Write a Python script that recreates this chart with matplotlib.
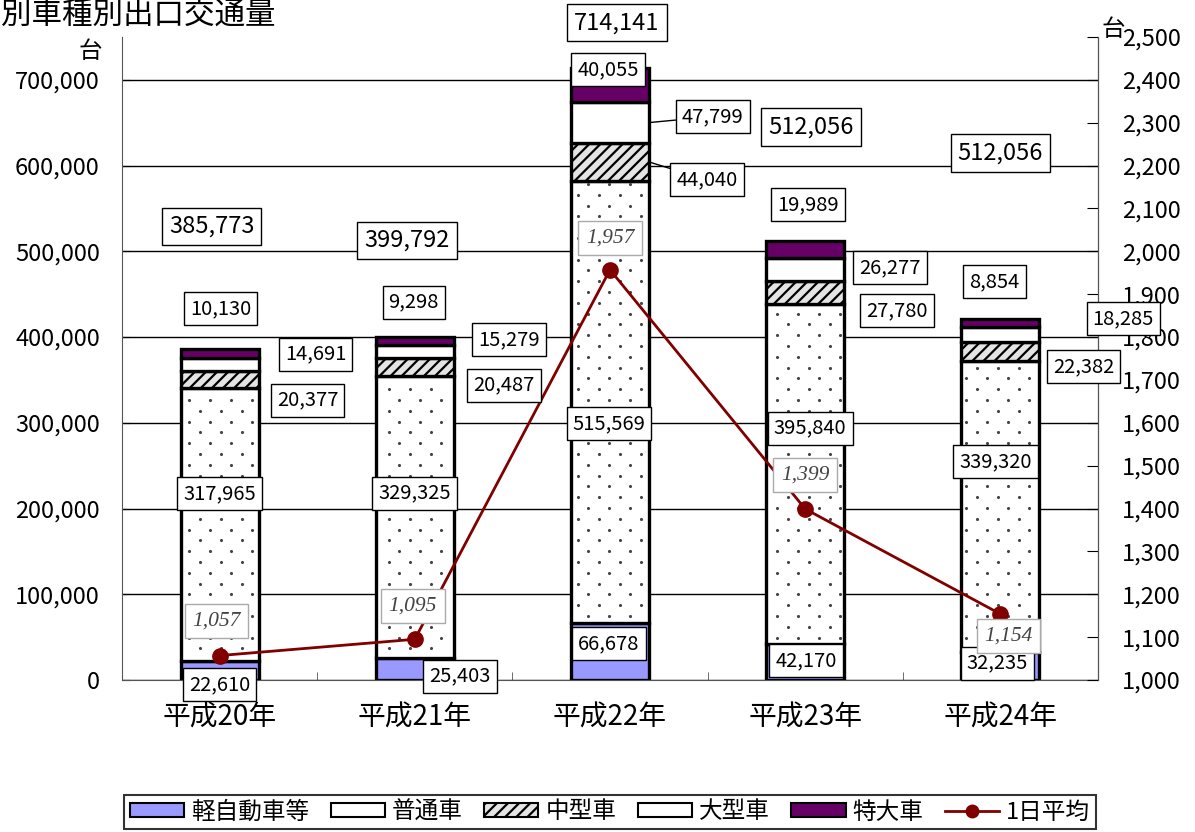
import matplotlib
matplotlib.use("Agg")
import matplotlib.pyplot as plt
from matplotlib.patches import Patch
from matplotlib.lines import Line2D
from matplotlib.ticker import FuncFormatter, MultipleLocator
import numpy as np

plt.rcParams['font.family'] = ['Noto Sans CJK JP', 'DejaVu Sans']
plt.rcParams['hatch.color'] = '#111111'
plt.rcParams['hatch.linewidth'] = 1.6

# ---------------- data ----------------
years = ['平成20年', '平成21年', '平成22年', '平成23年', '平成24年']
kei = [22610, 25403, 66678, 42170, 32235]          # 軽自動車等
futsu = [317965, 329325, 515569, 395840, 339320]   # 普通車
chugata = [20377, 20487, 44040, 27780, 22382]      # 中型車
ogata = [14691, 15279, 47799, 26277, 18285]        # 大型車
tokudai = [10130, 9298, 40055, 19989, 8854]        # 特大車
total_labels = [385773, 399792, 714141, 512056, 512056]
daily_avg = [1057, 1095, 1957, 1399, 1154]         # 1日平均
series_names = ['軽自動車等', '普通車', '中型車', '大型車', '特大車']
line_name = '1日平均'

# label offsets (pixels, dx, dy up) relative to each segment / point
off_kei = [(0, -14), (45, -7), (-1, 8), (1, 1), (-3, 3)]
off_futsu = [(0, 31), (0, 24), (-1, -22), (5, 46), (-5, 45)]
off_chu = [(88, -21), (89, -18), (97, -18), (92, -18), (83, -15)]
off_oga = [(96, 10), (94, 12), (103, 6), (85, 2), (123, 16)]
off_tok = [(1, 45), (-1, 39), (-2, 15), (3, 45), (-6, 41)]
off_tot = [(-8, 123), (-8, 97), (7, 45), (6, 114), (0, 166)]
off_avg = [(-3, 35), (-2, 33), (0, 32), (0, 34), (8, -22)]

fig = plt.figure(figsize=(11.95, 8.32), dpi=100)
ax = fig.add_axes([122/1195, 1-680/832, (1098-122)/1195, (680-37)/832])
ax2 = ax.twinx()

x = np.arange(len(years))
w = 0.4
series = [kei, futsu, chugata, ogata, tokudai]
faces = ['#9999FF', 'white', '#e4e4e4', 'white', '#660066']
hatches = [None, None, '///', None, None]
bottom = np.zeros(len(years))
mids = []
containers = []
for vals, fc, h in zip(series, faces, hatches):
    v = np.array(vals, dtype=float)
    bc = ax.bar(x, v, w, bottom=bottom, color=fc, edgecolor='black', linewidth=2.4,
                hatch=h, zorder=2)
    containers.append((bc, bottom.copy(), bottom + v))
    mids.append(bottom + v / 2)
    bottom = bottom + v
tops = bottom

ax.set_xlim(-0.5, len(years) - 0.5)
ax.set_ylim(0, 750000)

# sparse dotted texture for 普通車 (drawn from bar geometry)
bc, b0, b1 = containers[1]
inv = ax.transData.inverted()
for i, patch in enumerate(bc.patches):
    (px0, py0) = ax.transData.transform((x[i] - w/2, b0[i]))
    (px1, py1) = ax.transData.transform((x[i] + w/2, b1[i]))
    pts = []
    for k, yy in enumerate(np.arange(0, 832, 10.8)):
        if yy < py0 + 3 or yy > py1 - 3:
            continue
        shift = 10.5 if k % 2 else 0
        for xx in np.arange(shift, 1195, 21):
            if px0 + 3 < xx < px1 - 3:
                pts.append((xx, yy))
    if pts:
        d = inv.transform(np.array(pts))
        sc = ax.scatter(d[:, 0], d[:, 1], s=5, color='#444444', linewidths=0, zorder=2.5)
        sc.set_clip_path(patch)

ax.yaxis.set_major_locator(MultipleLocator(100000))
ax.yaxis.set_major_formatter(FuncFormatter(lambda v, p: f'{int(v):,}' if v <= 700000 else ''))
ax.grid(axis='y', color='black', linewidth=1, zorder=0)
ax.set_axisbelow(True)
ax.set_xticks(x)
ax.set_xticklabels(years, fontsize=20)
ax.set_xticks(np.arange(-0.5, len(years)), minor=True)
ax.tick_params(axis='x', which='major', length=0, pad=16)
ax.tick_params(axis='x', which='minor', direction='in', length=6, color='#555555')
ax.tick_params(axis='y', direction='in', length=6, labelsize=17, pad=16)
ax.spines['top'].set_visible(False)
ax2.spines['top'].set_visible(False)
ax.spines['bottom'].set_color('#555555')
ax.spines['left'].set_color('#555555')
ax2.spines['right'].set_color('#555555')
ax2.spines['left'].set_visible(False)
ax2.spines['bottom'].set_visible(False)

ax2.set_ylim(1000, 2500)
ax2.yaxis.set_major_locator(MultipleLocator(100))
ax2.yaxis.set_major_formatter(FuncFormatter(lambda v, p: f'{int(round(v)):,}'))
ax2.tick_params(axis='y', direction='in', length=8, labelsize=17, pad=17)
ax2.plot(x, daily_avg, color='#800000', linewidth=2, marker='o', markersize=11, zorder=3)

box = dict(boxstyle='square,pad=0.3', facecolor='white', edgecolor='black', linewidth=1)
def lab(axis, xi, yi, txt, off, fs=14.5, bx=box, arrow=None, **kw):
    axis.annotate(txt, (xi, yi), xytext=off, textcoords='offset pixels',
                  ha='center', va='center', fontsize=fs, bbox=bx, zorder=10,
                  annotation_clip=False, arrowprops=arrow, **kw)

def to2(v):
    return 1000 + v / 500.0

leader = dict(arrowstyle='-', color='black', linewidth=1, shrinkA=0, shrinkB=0)
for i in range(len(years)):
    lab(ax2, x[i], to2(mids[0][i]), f'{kei[i]:,}', off_kei[i])
    lab(ax2, x[i], to2(mids[1][i]), f'{futsu[i]:,}', off_futsu[i])
    lab(ax2, x[i], to2(mids[4][i]), f'{tokudai[i]:,}', off_tok[i])
    lab(ax2, x[i], to2(tops[i]), f'{total_labels[i]:,}', off_tot[i], fs=17)
    abox = dict(boxstyle='square,pad=0.35', facecolor='white', edgecolor='#aaaaaa', linewidth=1)
    lab(ax2, x[i], daily_avg[i], f'{daily_avg[i]:,}', off_avg[i], fs=15.5, bx=abox,
        family=['Liberation Serif'], style='italic', color='#444444')

# side labels (中型車 / 大型車); short leaders from the bar edge for 平成22年
for i in range(len(years)):
    if i == 2:
        shift = (ax.transData.transform((x[i] + w/2, 0))[0]
                 - ax.transData.transform((x[i], 0))[0])
        lab(ax2, x[i] + w/2, to2(mids[2][i]), f'{chugata[i]:,}',
            (off_chu[i][0] - shift, off_chu[i][1]), arrow=leader)
        lab(ax2, x[i] + w/2, to2(mids[3][i]), f'{ogata[i]:,}',
            (off_oga[i][0] - shift, off_oga[i][1]), arrow=leader)
    else:
        lab(ax2, x[i], to2(mids[2][i]), f'{chugata[i]:,}', off_chu[i])
        lab(ax2, x[i], to2(mids[3][i]), f'{ogata[i]:,}', off_oga[i])

# unit labels and title
fig.text(90/1195, 1-52/832, '台', fontsize=17, ha='center', va='center')
fig.text(1113/1195, 1-30/832, '台', fontsize=17, ha='center', va='center')
fig.text(1/1195, 1-15/832, '別車種別出口交通量', fontsize=22, ha='left', va='center')

handles = [Patch(facecolor=fc, edgecolor='black', linewidth=1.5, hatch=h)
           for fc, h in zip(faces, hatches)]
handles.append(Line2D([0], [0], color='#800000', linewidth=2, marker='o', markersize=9))
leg = fig.legend(handles, series_names + [line_name], loc='center', ncol=6,
                 bbox_to_anchor=(610/1195, 1-812/832), fontsize=17, frameon=True,
                 fancybox=False, edgecolor='black', handlelength=2.3, handleheight=0.55,
                 handletextpad=0.3, columnspacing=0.9, borderpad=0.25, borderaxespad=0)
leg.get_frame().set_linewidth(1.5)

fig.savefig('out.png', dpi=100)
